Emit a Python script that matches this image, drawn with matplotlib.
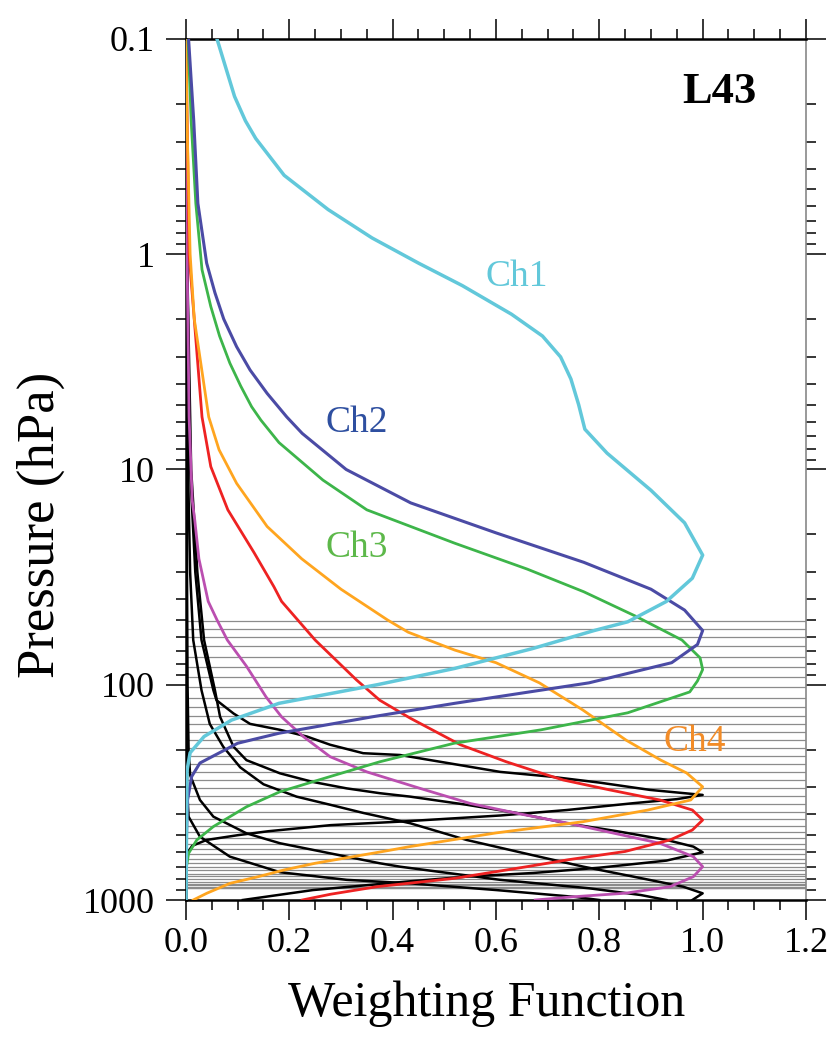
import numpy as np
import matplotlib
matplotlib.use('Agg')
import matplotlib.pyplot as plt
import matplotlib.ticker as mticker

plt.rcParams['font.family'] = ['Liberation Serif', 'DejaVu Serif']

# model levels (hPa) drawn as grey lines
levels = [50.4, 54.9, 59.8, 66.1, 74.1, 82.5, 92.3, 102.8, 115.6, 127.3, 139.7,
          152.2, 165.8, 180.6, 197.4, 214.3, 233.4, 254.3, 277.0, 301.8, 328.7,
          358.1, 390.1, 420.5, 453.2, 483.2, 515.2, 549.4, 579.6, 611.3, 641.6,
          669.6, 698.9, 725.4, 753.2, 777.7, 798.8, 820.5, 838.2, 851.8, 865.6,
          874.9, 882.6]

# channel weighting functions: pressure (hPa) and normalised weight
ch1_p = [0.1, 0.185, 0.24, 0.29, 0.43, 0.62, 0.84, 1.1, 1.4, 1.9, 2.4, 3.0, 3.8,
         5.0, 6.5, 8.4, 12.5, 17.7, 25, 32, 41, 51, 56, 68, 84, 100, 122, 146,
         174, 207, 250, 1000]
ch1_w = [0.06, 0.094, 0.115, 0.135, 0.19, 0.275, 0.36, 0.45, 0.535, 0.63, 0.69,
         0.725, 0.745, 0.76, 0.772, 0.815, 0.90, 0.965, 1.0, 0.98, 0.93, 0.855,
         0.79, 0.67, 0.52, 0.37, 0.18, 0.088, 0.035, 0.008, 0.002, 0.0]

ch2_p = [0.1, 0.24, 0.58, 1.1, 1.51, 2.0, 2.69, 3.45, 4.43, 5.7, 6.8, 10, 14.3,
         19.7, 27, 36, 45, 56, 65, 79, 98, 122, 141, 168, 187, 201, 231, 267, 343,
         500, 1000]
ch2_w = [0.005, 0.015, 0.023, 0.04, 0.056, 0.073, 0.098, 0.124, 0.157, 0.195,
         0.225, 0.31, 0.435, 0.60, 0.77, 0.90, 0.965, 1.0, 0.99, 0.94, 0.78, 0.52,
         0.36, 0.18, 0.10, 0.075, 0.027, 0.011, 0.003, 0.001, 0.0]

ch3_p = [0.1, 0.24, 0.58, 1.18, 1.75, 2.4, 3.21, 4.1, 5.11, 5.9, 7.5, 11.2, 15.4,
         22, 29, 37, 48, 62, 75, 85, 96, 108, 135, 162, 187, 228, 267, 314, 369,
         456, 526, 607, 700, 1000]
ch3_w = [0.004, 0.01, 0.019, 0.031, 0.048, 0.065, 0.085, 0.106, 0.127, 0.145,
         0.18, 0.265, 0.35, 0.52, 0.66, 0.77, 0.87, 0.96, 0.995, 1.0, 0.99, 0.975,
         0.855, 0.687, 0.519, 0.375, 0.279, 0.182, 0.117, 0.053, 0.021, 0.005,
         0.001, 0.0]

ch4_p = [0.1, 0.24, 1.0, 2.0, 5.7, 8.1, 11.6, 18.4, 26, 36, 50, 57, 69, 79, 98, 131,
         181, 224, 257, 298, 343, 382, 433, 488, 565, 590, 675, 725, 779, 837, 931, 1000]
ch4_w = [0.0, 0.002, 0.008, 0.016, 0.044, 0.064, 0.098, 0.157, 0.224, 0.30, 0.39,
         0.43, 0.52, 0.60, 0.684, 0.768, 0.852, 0.919, 0.969, 1.0, 0.977, 0.894,
         0.768, 0.60, 0.433, 0.39, 0.25, 0.19, 0.14, 0.085, 0.04, 0.014]

red_p = [0.1, 1, 5.7, 9.7, 15.4, 24.4, 35, 41, 62, 95, 118, 143, 190, 228, 254, 277,
         308, 343, 382, 425, 473, 526, 595, 650, 700, 793, 867, 940, 1000]
red_w = [0.0, 0.006, 0.031, 0.048, 0.081, 0.132, 0.17, 0.185, 0.25, 0.33, 0.375,
         0.434, 0.531, 0.62, 0.68, 0.73, 0.82, 0.917, 0.98, 1.0, 0.98, 0.937, 0.85,
         0.74, 0.66, 0.52, 0.37, 0.28, 0.225]

mag_p = [0.1, 1, 5.7, 13.9, 17.2, 26, 41, 50, 62, 82, 114, 141, 174, 216, 254, 303,
         356, 398, 440, 473, 545, 629, 700, 779, 867, 930, 966, 1000]
mag_w = [0.0, 0.002, 0.006, 0.012, 0.017, 0.025, 0.043, 0.06, 0.08, 0.117, 0.155,
         0.185, 0.227, 0.279, 0.35, 0.453, 0.55, 0.646, 0.74, 0.80, 0.917, 0.982,
         1.0, 0.982, 0.937, 0.85, 0.75, 0.676]

blk1_p = [0.1, 1, 10, 30, 62, 106, 118, 136, 152, 162, 174, 190, 208, 212, 232,
          254, 267, 285, 308, 325, 340, 355, 382, 405, 433, 449, 479, 500, 526,
          560, 607, 1000]
blk1_w = [0.0, 0.002, 0.008, 0.018, 0.03, 0.053, 0.059, 0.092, 0.124, 0.182,
          0.234, 0.279, 0.343, 0.414, 0.511, 0.608, 0.704, 0.801, 0.898, 1.0,
          0.95, 0.866, 0.737, 0.608, 0.41, 0.28, 0.16, 0.1, 0.04, 0.012, 0.002, 0.0]

blk2_p = [0.1, 1, 10, 30, 62, 106, 141, 194, 224, 258, 283, 303, 319, 331, 361,
          394, 440, 479, 526, 565, 600, 656, 708, 749, 779, 820, 899, 1000]
blk2_w = [0.0, 0.002, 0.01, 0.022, 0.035, 0.056, 0.066, 0.092, 0.117, 0.182, 0.246,
          0.311, 0.375, 0.434, 0.543, 0.64, 0.737, 0.834, 0.93, 0.982, 1.0, 0.93,
          0.80, 0.672, 0.543, 0.43, 0.246, 0.11]

blk3_p = [0.1, 1, 10, 30, 62, 106, 152, 194, 242, 290, 331, 361, 394, 440, 526, 620,
          700, 779, 867, 931, 1000]
blk3_w = [0.0, 0.001, 0.004, 0.008, 0.014, 0.03, 0.046, 0.072, 0.105, 0.15, 0.214,
          0.279, 0.343, 0.434, 0.543, 0.672, 0.769, 0.866, 0.962, 1.0, 0.98]

blk4_p = [0.1, 10, 100, 200, 263, 343, 410, 490, 545, 607, 675, 700, 806, 882, 948,
          1000]
blk4_w = [0.0, 0.001, 0.003, 0.005, 0.008, 0.027, 0.053, 0.117, 0.182, 0.279, 0.375,
          0.414, 0.608, 0.78, 0.88, 0.93]

blk5_p = [0.1, 100, 300, 410, 508, 629, 743, 806, 837, 899, 966, 1000]
blk5_w = [0.0, 0.001, 0.002, 0.005, 0.027, 0.085, 0.182, 0.311, 0.434, 0.6, 0.75, 0.8]

fig = plt.figure(figsize=(8.27, 10.47), dpi=100)
ax = fig.add_axes([0.2249, 0.1404, 0.7497, 0.8224])

# grey level lines
ax.hlines(levels, 0, 1.2, color='#8c8c8c', lw=0.9, zorder=1)

# black channels
for p, w in [(blk1_p, blk1_w), (blk2_p, blk2_w), (blk3_p, blk3_w),
             (blk4_p, blk4_w), (blk5_p, blk5_w)]:
    ax.plot(w, p, color='black', lw=1.8, zorder=3)

ax.plot(mag_w, mag_p, color='#bb4fb0', lw=2.0, zorder=4)
ax.plot(red_w, red_p, color='#ee2222', lw=2.0, zorder=4)
ax.plot(ch4_w, ch4_p, color='#ffa51f', lw=2.0, zorder=4)
ax.plot(ch3_w, ch3_p, color='#3db54a', lw=2.0, zorder=4)
ax.plot(ch2_w, ch2_p, color='#4b4ba5', lw=2.2, zorder=4)
ax.plot(ch1_w, ch1_p, color='#62c8da', lw=2.5, zorder=4)

ax.set_yscale('log')
ax.set_ylim(1000, 0.1)
ax.set_xlim(0, 1.2)

ax.yaxis.set_major_locator(mticker.FixedLocator([0.1, 1, 10, 100, 1000]))
ax.yaxis.set_major_formatter(mticker.FixedFormatter(['0.1', '1', '10', '100', '1000']))
ax.yaxis.set_minor_locator(mticker.LogLocator(base=10, subs=np.arange(2, 10)))
ax.yaxis.set_minor_formatter(mticker.NullFormatter())
ax.xaxis.set_major_locator(mticker.MultipleLocator(0.2))
ax.xaxis.set_minor_locator(mticker.MultipleLocator(0.05))
ax.xaxis.set_major_formatter(mticker.FormatStrFormatter('%.1f'))

ax.tick_params(which='both', direction='out', top=True, right=True, width=1.1)
ax.tick_params(which='major', length=14.4, labelsize=26)
ax.tick_params(axis='x', which='major', pad=5)
ax.tick_params(axis='y', which='major', pad=8)
ax.tick_params(which='minor', length=7.2)

for s in ['left', 'bottom', 'top']:
    ax.spines[s].set_linewidth(1.8)
ax.spines['right'].set_color('#888888')
ax.spines['right'].set_linewidth(1.2)

ax.set_ylabel('Pressure (hPa)', fontsize=38)
ax.yaxis.set_label_coords(-0.195, 0.4355)
ax.set_xlabel('Weighting Function', fontsize=36)
ax.xaxis.set_label_coords(0.485, -0.094)

ax.text(0.64, 1.27, 'Ch1', color='#62c8da', fontsize=27, ha='center', va='center')
ax.text(0.331, 6.08, 'Ch2', color='#2e4fa0', fontsize=27, ha='center', va='center')
ax.text(0.331, 23.2, 'Ch3', color='#5db84a', fontsize=27, ha='center', va='center')
ax.text(0.985, 184.5, 'Ch4', color='#f28c28', fontsize=27, ha='center', va='center')
ax.text(1.033, 0.176, 'L43', color='black', fontsize=32, fontweight='bold',
        ha='center', va='center')

fig.savefig('out.png', dpi=100)
